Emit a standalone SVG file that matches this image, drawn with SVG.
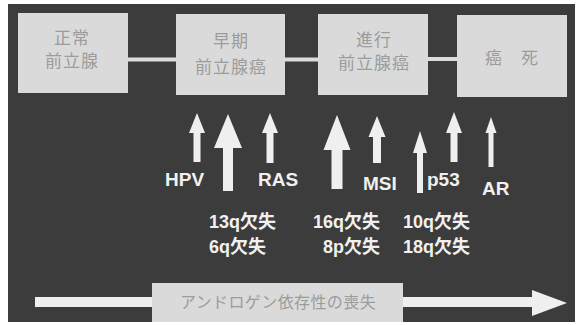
<svg xmlns="http://www.w3.org/2000/svg" width="582" height="325" viewBox="0 0 582 325">
<defs>
<style>
.box{fill:#dadada;}
.btxt{font-family:"Noto Sans CJK JP","Noto Sans CJK SC",sans-serif;font-size:17px;letter-spacing:1px;fill:#9c9c9c;text-anchor:middle;}
.link{stroke:#dcdcdc;stroke-width:4;fill:none;}
.arr{fill:#efefef;}
.lbl{font-family:"Liberation Sans","Noto Sans CJK JP",sans-serif;font-weight:bold;font-size:19px;fill:#f0f0f0;}
.chr{font-family:"Liberation Sans","Noto Sans CJK JP",sans-serif;font-weight:bold;font-size:18px;fill:#f0f0f0;}
</style>
</defs>
<rect x="0" y="0" width="582" height="325" fill="#ffffff"/>
<rect x="8" y="4" width="567" height="318" fill="#3c3c3c"/>

<g id="connectors">
<line class="link" x1="128" y1="59.5" x2="176" y2="59.5"/>
<line class="link" x1="285" y1="59.5" x2="318" y2="59.5"/>
<line class="link" x1="428" y1="59" x2="457" y2="59"/>
</g>

<g id="node-normal">
<rect class="box" x="18" y="13" width="110" height="80"/>
<text class="btxt" x="72" y="44">正常</text>
<text class="btxt" x="72" y="67">前立腺</text>
</g>
<g id="node-early">
<rect class="box" x="176" y="14" width="109" height="81"/>
<text class="btxt" x="231" y="47">早期</text>
<text class="btxt" x="231" y="73">前立腺癌</text>
</g>
<g id="node-advanced">
<rect class="box" x="318" y="14" width="110" height="81"/>
<text class="btxt" x="374" y="46">進行</text>
<text class="btxt" x="374" y="69">前立腺癌</text>
</g>
<g id="node-death">
<rect class="box" x="457" y="15" width="110" height="82"/>
<text class="btxt" x="512" y="64">癌　死</text>
</g>

<g id="event-arrows">
<polygon class="arr" points="197,113 205,133 200.5,133 200.5,162 193.5,162 193.5,133 189,133"/>
<polygon class="arr" points="228,114 242,148 233,148 233,191 223,191 223,148 214,148"/>
<polygon class="arr" points="270,113 278,133 273.5,133 273.5,163 266.5,163 266.5,133 262,133"/>
<polygon class="arr" points="337,115 350.5,150 342.5,150 342.5,189 331.5,189 331.5,150 323.5,150"/>
<polygon class="arr" points="377,116 385.5,137 381,137 381,163 373,163 373,137 368.5,137"/>
<polygon class="arr" points="420,131 427,153 423,153 423,193 417,193 417,153 413,153"/>
<polygon class="arr" points="454,112 462,133 457.5,133 457.5,162 450.5,162 450.5,133 446,133"/>
<polygon class="arr" points="491,117 496.5,133 493.5,133 493.5,167 488.5,167 488.5,133 485.5,133"/>
</g>

<g id="labels">
<text class="lbl" x="165" y="186">HPV</text>
<text class="lbl" x="258" y="186">RAS</text>
<text class="lbl" x="363" y="190">MSI</text>
<text class="lbl" x="427" y="186">p53</text>
<text class="lbl" x="482" y="195">AR</text>
</g>

<g id="deletions">
<text class="chr" x="209" y="228">13q欠失</text>
<text class="chr" x="209" y="253">6q欠失</text>
<text class="chr" x="380" y="228" text-anchor="end">16q欠失</text>
<text class="chr" x="380" y="253" text-anchor="end">8p欠失</text>
<text class="chr" x="403" y="228">10q欠失</text>
<text class="chr" x="403" y="253">18q欠失</text>
</g>

<g id="androgen-arrow">
<rect class="arr" x="35" y="297" width="498" height="10"/>
<polygon class="arr" points="532,290 567,303 532,316"/>
<rect class="box" x="152" y="283" width="251" height="39"/>
<text class="btxt" x="278" y="308" style="font-size:16px;letter-spacing:0.4px">アンドロゲン依存性の喪失</text>
</g>
</svg>
